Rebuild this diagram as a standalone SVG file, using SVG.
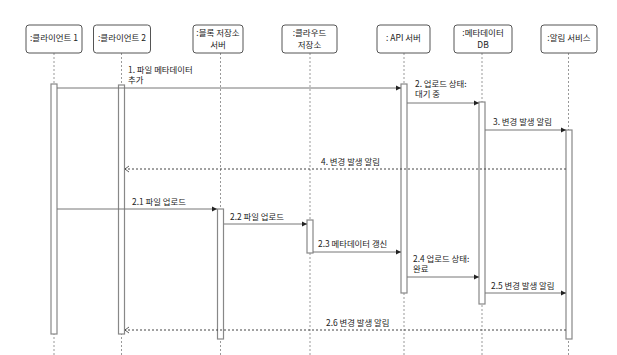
<svg xmlns="http://www.w3.org/2000/svg" width="617" height="355" viewBox="0 0 617 355">
<style>
text{font-family:"Noto Sans CJK KR","Noto Sans",sans-serif;fill:#222;}
.h{font-size:8.5px;text-anchor:middle;}
.m{font-size:8.4px;}
.box{fill:#fff;stroke:#555;stroke-width:1;}
.life{stroke:#999;stroke-width:1;stroke-dasharray:2,2;fill:none;}
.act{fill:#fff;stroke:#888;stroke-width:1.2;}
.msg{stroke:#777;stroke-width:1;fill:none;}
.ret{stroke:#444;stroke-width:1;stroke-dasharray:2,2;fill:none;}
</style>
<defs>
<marker id="fa" markerWidth="6" markerHeight="6" refX="5" refY="3" orient="auto" markerUnits="userSpaceOnUse">
<path d="M0,0.5 L5,3 L0,5.5 Z" fill="#222"/>
</marker>
<marker id="oa" markerWidth="6" markerHeight="8" refX="4" refY="4" orient="auto" markerUnits="userSpaceOnUse">
<path d="M0,1 L4,4 L0,7" fill="none" stroke="#333" stroke-width="0.8"/>
</marker>
</defs>
<rect width="617" height="355" fill="#fff"/>
<g id="lifelines">
<line class="life" x1="54" y1="53" x2="54" y2="355"/>
<line class="life" x1="121.5" y1="53" x2="121.5" y2="355"/>
<line class="life" x1="220.5" y1="53" x2="220.5" y2="355"/>
<line class="life" x1="310" y1="53" x2="310" y2="355"/>
<line class="life" x1="404" y1="53" x2="404" y2="355"/>
<line class="life" x1="482" y1="53" x2="482" y2="355"/>
<line class="life" x1="568.5" y1="53" x2="568.5" y2="355"/>
</g>
<g id="client1">
<rect class="box" x="26" y="25" width="56" height="28" rx="3"/>
<text class="h" x="54" y="40.5">:클라이언트 1</text>
<rect class="act" x="51" y="84" width="6" height="250"/>
</g>
<g id="client2">
<rect class="box" x="93.5" y="25" width="57" height="28" rx="3"/>
<text class="h" x="122" y="40.5">:클라이언트 2</text>
<rect class="act" x="118.5" y="85" width="6" height="249"/>
</g>
<g id="blockstore">
<rect class="box" x="193" y="25" width="50" height="28" rx="3"/>
<text class="h" x="218" y="36">:블록 저장소</text>
<text class="h" x="218" y="48">서버</text>
<rect class="act" x="217.5" y="209" width="6" height="130"/>
</g>
<g id="cloudstore">
<rect class="box" x="282" y="25" width="55" height="28" rx="3"/>
<text class="h" x="309.5" y="36">:클라우드</text>
<text class="h" x="309.5" y="48">저장소</text>
<rect class="act" x="307" y="220" width="6" height="33"/>
</g>
<g id="apiserver">
<rect class="box" x="377" y="25" width="53" height="28" rx="3"/>
<text class="h" x="403.5" y="40.5">: API 서버</text>
<rect class="act" x="401" y="84" width="6" height="209"/>
</g>
<g id="metadb">
<rect class="box" x="454" y="25" width="58" height="28" rx="3"/>
<text class="h" x="483" y="36">:메타데이터</text>
<text class="h" x="483" y="48">DB</text>
<rect class="act" x="479" y="102" width="6" height="202"/>
</g>
<g id="notify">
<rect class="box" x="541" y="25" width="56" height="28" rx="3"/>
<text class="h" x="569" y="40.5">:알림 서비스</text>
<rect class="act" x="566" y="130" width="6" height="209"/>
</g>
<g id="connectors">
<line class="msg" x1="57" y1="88" x2="401" y2="88" marker-end="url(#fa)"/>
<text class="m" x="128" y="72.5">1. 파일 메타데이터</text>
<text class="m" x="128" y="83">추가</text>
<line class="msg" x1="407" y1="103" x2="479" y2="103" marker-end="url(#fa)"/>
<text class="m" x="415" y="86.5">2. 업로드 상태:</text>
<text class="m" x="415" y="97">대기 중</text>
<line class="msg" x1="485" y1="130" x2="566" y2="130" marker-end="url(#fa)"/>
<text class="m" x="493" y="125">3. 변경 발생 알림</text>
<line class="ret" x1="566" y1="169" x2="125" y2="169" marker-end="url(#oa)"/>
<text class="m" x="321" y="165">4. 변경 발생 알림</text>
<line class="msg" x1="57" y1="209" x2="217" y2="209" marker-end="url(#fa)"/>
<text class="m" x="132" y="205">2.1 파일 업로드</text>
<line class="msg" x1="224" y1="224" x2="307" y2="224" marker-end="url(#fa)"/>
<text class="m" x="230" y="220">2.2 파일 업로드</text>
<line class="msg" x1="313" y1="252" x2="401" y2="252" marker-end="url(#fa)"/>
<text class="m" x="318" y="247">2.3 메타데이터 갱신</text>
<line class="msg" x1="407" y1="277" x2="479" y2="277" marker-end="url(#fa)"/>
<text class="m" x="413" y="261.5">2.4 업로드 상태:</text>
<text class="m" x="413" y="272">완료</text>
<line class="msg" x1="485" y1="293" x2="566" y2="293" marker-end="url(#fa)"/>
<text class="m" x="491" y="289">2.5 변경 발생 알림</text>
<line class="ret" x1="566" y1="330" x2="125" y2="330" marker-end="url(#oa)"/>
<text class="m" x="326" y="326">2.6 변경 발생 알림</text>
</g>
</svg>
